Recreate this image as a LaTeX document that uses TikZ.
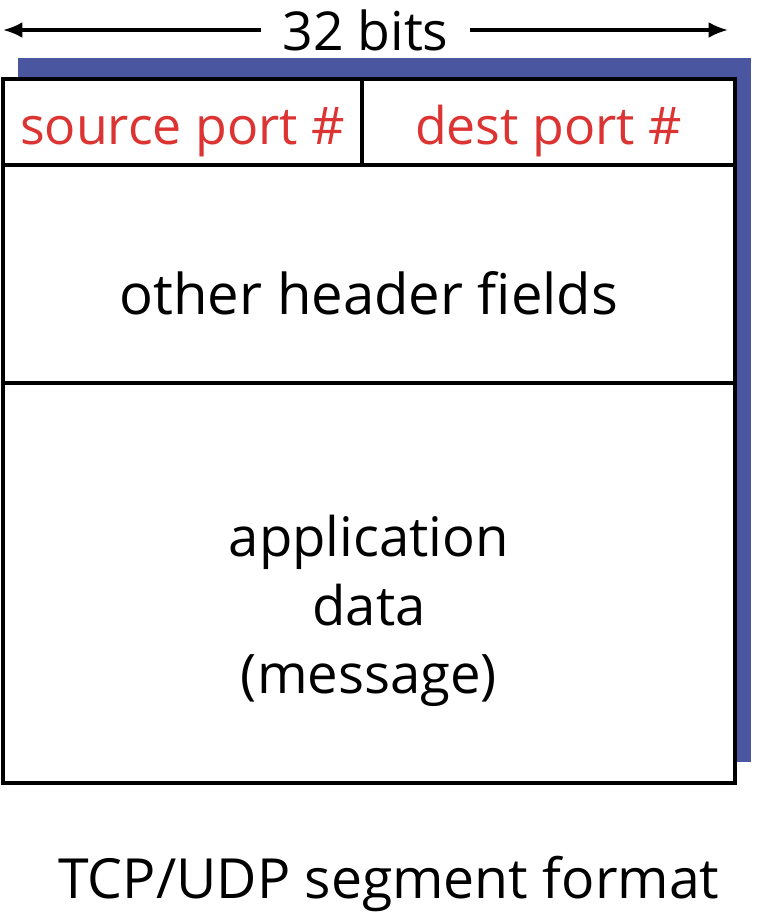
\documentclass[tikz,border=0pt]{standalone}
\usepackage{fontspec}
\setmainfont{Open Sans}
\usepackage{tikz}
\usetikzlibrary{arrows.meta, positioning}

\definecolor{shadowblue}{RGB}{74,87,160}
\definecolor{portred}{RGB}{220,52,50}

\begin{document}
\begin{tikzpicture}[x=0.02cm, y=0.02cm,
                field/.style={draw, line width=2pt, fill=white, inner sep=0pt, outer sep=0pt, align=center, font=\fontsize{32}{38}\selectfont},
                port/.style={field, text=portred, minimum height=1.72cm, text height=32pt, text depth=6pt, font=\fontsize{29.5}{36}\selectfont},
                arrow/.style={{Latex[length=11pt,width=9pt]}-{Latex[length=11pt,width=9pt]}, line width=1.9pt}]

                \useasboundingbox (0,0) rectangle (761,-922);

                % Shadow behind the segment
                \fill[shadowblue] (18,-58) rectangle (751,-762);

                % Fields
                \node[port, minimum width=7.18cm, anchor=north west] (src) at (3,-79) {source port \#};
                \node[port, minimum width=7.46cm, anchor=north west] (dst) at (src.north east) {dest port \#};
                \node[field, minimum width=14.64cm, minimum height=4.36cm, text height=54pt, text depth=8pt, anchor=north west] (hdr) at (src.south west) {other header fields};
                \node[field, minimum width=14.64cm, minimum height=8cm, anchor=north west] (data) at (hdr.south west) {};
                \node[font=\fontsize{31}{39}\selectfont, align=center, yshift=-0.56cm] (msg) at (data.center) {application\\data\\(message)};

                % Width arrow
                \coordinate (wl) at (3,-30);
                \coordinate (wr) at (728,-30);
                \draw[arrow] (wl) -- (wr) node[midway, fill=white, inner xsep=12pt, font=\fontsize{30.5}{36}\selectfont] (bits) {32 bits};

                % Caption
                \node[font=\fontsize{31.5}{36}\selectfont, below=1.35cm of data.south, xshift=0.4cm] (cap) {TCP/UDP segment format};
            \end{tikzpicture}
\end{document}
